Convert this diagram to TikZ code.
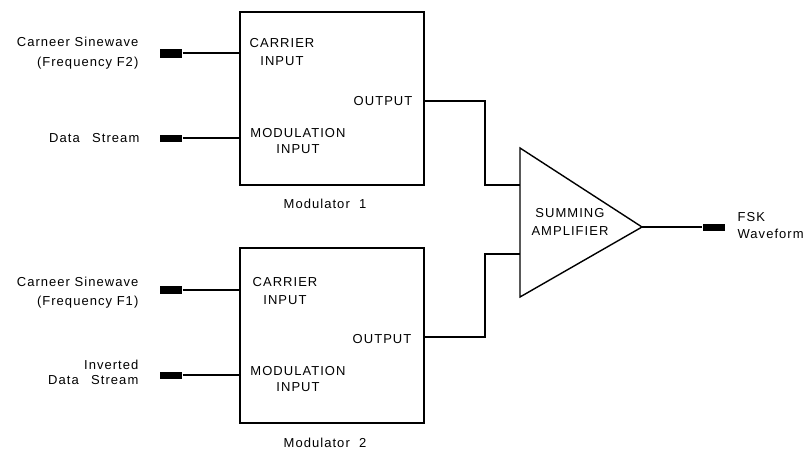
\documentclass[tikz,border=0pt]{standalone}
\usepackage{fontspec}
\newfontfamily\lbl[LetterSpace=8]{Liberation Sans}
\begin{document}
\begin{tikzpicture}[x=1pt,y=-1pt,line width=1.3pt,
  modbox/.style={draw,line width=1.5pt,minimum width=184pt,inner sep=0pt},
  jack/.style={fill=black,draw=none,minimum width=22pt,minimum height=7pt,inner sep=0pt},
  txt/.style={font={\lbl\fontsize{13}{17}\selectfont},inner sep=0pt,align=center},
  ltxt/.style={txt,align=right,anchor=east},
  wire/.style={line width=1.3pt}]
\useasboundingbox (0,0) rectangle (808,453);
% modulator boxes
\node[modbox,minimum height=173pt] (m1) at (332,98.5) {};
\node[modbox,minimum height=175pt] (m2) at (332,335.5) {};
\node[txt] (m1lab) at (325,204) {Modulator\hspace{0.35em} 1};
\node[txt] (m2lab) at (325,443) {Modulator\hspace{0.35em} 2};
% inside labels
\node[txt,font={\lbl\fontsize{13}{18}\selectfont}] (m1car) at (282,52) {CARRIER\\INPUT};
\node[txt,font={\lbl\fontsize{13}{16}\selectfont}] (m1mod) at (298,141) {MODULATION\\INPUT};
\node[txt,anchor=east] (m1out) at (413,101) {OUTPUT};
\node[txt,font={\lbl\fontsize{13}{18}\selectfont}] (m2car) at (285,291) {CARRIER\\INPUT};
\node[txt,font={\lbl\fontsize{13}{16}\selectfont}] (m2mod) at (298,379.5) {MODULATION\\INPUT};
\node[txt,anchor=east] (m2out) at (412,339) {OUTPUT};
% input jacks
\node[jack,minimum height=9pt] (j1) at (171,53) {};
\node[jack] (j2) at (171,138) {};
\node[jack,minimum height=8pt] (j3) at (171,290) {};
\node[jack] (j4) at (171,375) {};
% input labels
\node[ltxt,font={\lbl\fontsize{13}{20}\selectfont}] (l1) at (139,53) {Carneer Sinewave\\(Frequency F2)};
\node[ltxt] (l2) at (140,138) {Data\hspace{0.6em} Stream};
\node[ltxt,font={\lbl\fontsize{13}{19}\selectfont}] (l3) at (139,292.5) {Carneer Sinewave\\(Frequency F1)};
\node[ltxt,font={\lbl\fontsize{13}{15}\selectfont}] (l4) at (139,372.5) {Inverted\\Data\hspace{0.6em} Stream};
% input wires
\draw[wire] (j1.east) -- (j1.east -| m1.west);
\draw[wire] (j2.east) -- (j2.east -| m1.west);
\draw[wire] (j3.east) -- (j3.east -| m2.west);
\draw[wire] (j4.east) -- (j4.east -| m2.west);
% summing amplifier
\coordinate (ta) at (520,148);
\coordinate (tb) at (520,297);
\coordinate (apex) at (642,227);
\draw[line width=1.4pt,line join=miter] (ta) -- (apex) -- (tb) -- cycle;
\node[txt,font={\lbl\fontsize{13}{18}\selectfont}] (amp) at (570,222) {SUMMING\\AMPLIFIER};
\coordinate (in1) at (520,185);
\coordinate (in2) at (520,254);
% output wires
\coordinate (o1) at (424,101);
\coordinate (o2) at (424,337);
\draw[wire] (o1) -- (485,101) -- (485,185) -- (in1);
\draw[wire] (o2) -- (485,337) -- (485,254) -- (in2);
% FSK output
\node[jack] (j5) at (713.5,227) {};
\draw[wire] (apex) -- (j5.west);
\node[txt,align=left,anchor=west,font={\lbl\fontsize{13}{17}\selectfont}] (fsk) at (737,226) {FSK\\Waveform};
\end{tikzpicture}
\end{document}
